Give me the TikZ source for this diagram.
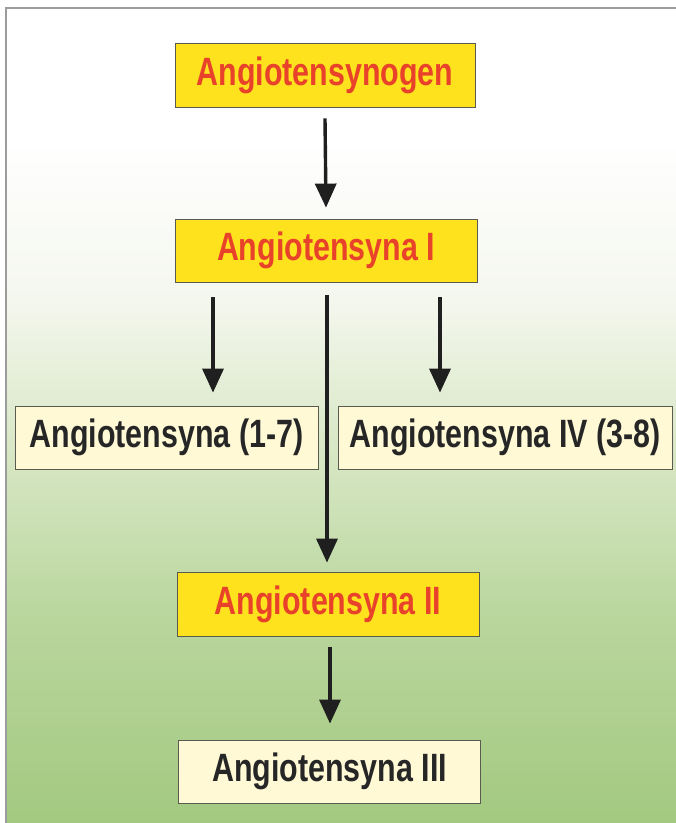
\documentclass[tikz,border=0pt]{standalone}
\usepackage{fontspec}
\newfontfamily\condfont[FakeStretch=0.77]{Liberation Sans}
\usetikzlibrary{arrows.meta,calc}
\definecolor{boxyellow}{HTML}{FFE21E}
\definecolor{boxred}{HTML}{E8432A}
\definecolor{cream}{HTML}{FFF9D6}
\definecolor{edgegray}{HTML}{5A5A50}
\definecolor{bgA}{HTML}{F4F7EE}
\definecolor{bgB}{HTML}{D6E6C2}
\definecolor{bgC}{HTML}{B9D69D}
\definecolor{bgD}{HTML}{A3C980}
\definecolor{framegray}{HTML}{9C9C9C}
\tikzset{
  basebox/.style={draw=edgegray, line width=0.8pt, inner sep=0pt, anchor=center,
    font=\condfont\bfseries\fontsize{39.5}{41}\selectfont},
  yellowbox/.style={basebox, fill=boxyellow, text=boxred},
  creambox/.style={basebox, fill=cream, text=black!85},
  arr/.style={line width=3.4pt, black!88, -{Triangle[width=21pt,length=24pt]}}
}
\begin{document}
\begin{tikzpicture}[x=1pt,y=-1pt]
\useasboundingbox (0,0) rectangle (676,823);
% background
\fill[white] (0,0) rectangle (676,823);
\fill[white] (6,8) rectangle (676,140);
\shade[top color=white, bottom color=bgA] (6,140) rectangle (676,300);
\shade[top color=bgA, bottom color=bgB] (6,299.5) rectangle (676,460);
\shade[top color=bgB, bottom color=bgC] (6,459.5) rectangle (676,620);
\shade[top color=bgC, bottom color=bgD] (6,619.5) rectangle (676,823);
\draw[framegray, line width=1.4pt] (676,8) -- (6,8) -- (6,823);
% boxes
\node[yellowbox, minimum width=300pt, minimum height=64pt] (a) at (325,75) {Angiotensynogen};
\node[yellowbox, minimum width=302pt, minimum height=63pt] (b) at (326,250.5) {Angiotensyna I};
\node[creambox, minimum width=303pt, minimum height=63pt] (c) at (166.5,437.5) {Angiotensyna (1-7)};
\node[creambox, minimum width=334pt, minimum height=63pt] (d) at (505,437.5) {Angiotensyna IV (3-8)};
\node[yellowbox, minimum width=302pt, minimum height=64pt] (e) at (328,604) {Angiotensyna II};
\node[creambox, minimum width=302pt, minimum height=63pt] (f) at (329.5,771.5) {Angiotensyna III};
% arrows
\draw[arr] ([yshift=-11pt]a.south) -- ([yshift=11pt]b.north);
\draw[arr] ([xshift=-113pt,yshift=-15pt]b.south) -- ([xshift=46.5pt,yshift=13pt]c.north);
\draw[arr] ([xshift=114pt,yshift=-15pt]b.south) -- ([xshift=-65pt,yshift=13pt]d.north);
\draw[arr] ([xshift=1pt,yshift=-13pt]b.south) -- ([xshift=-1pt,yshift=9pt]e.north);
\draw[arr] ([xshift=2pt,yshift=-11pt]e.south) -- ([xshift=0.5pt,yshift=16pt]f.north);
\end{tikzpicture}
\end{document}
